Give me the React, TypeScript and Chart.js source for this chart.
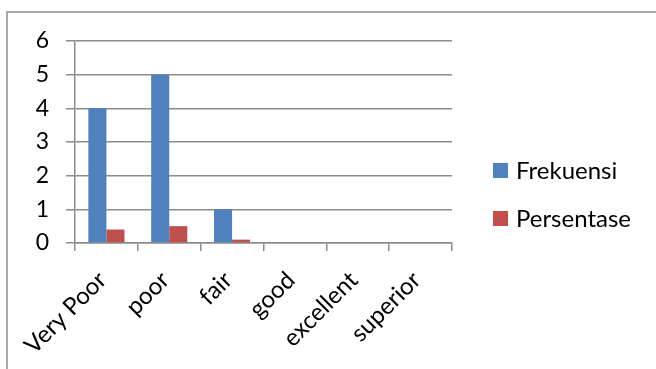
import React, { useEffect, useRef } from "react";
import { Chart, registerables } from "chart.js";

Chart.register(...registerables);

const categories = ["Very Poor", "poor", "fair", "good", "excellent", "superior"];
const frekuensi = [4, 5, 1, 0, 0, 0];
const persentase = [0.4, 0.5, 0.1, 0, 0, 0];
const yTicks = [0, 1, 2, 3, 4, 5, 6];
const seriesNames = ["Frekuensi", "Persentase"];
const seriesColors = ["#4F81BD", "#C0504D"];

const FONT = "Lato, 'Liberation Sans', sans-serif";

export default function App() {
  const ref = useRef<HTMLCanvasElement | null>(null);

  useEffect(() => {
    if (!ref.current) return;
    const framePlugin = {
      id: "frame",
      beforeDraw(chart: any) {
        const ctx = chart.ctx;
        ctx.save();
        ctx.fillStyle = "#ffffff";
        ctx.fillRect(0, 0, chart.width, chart.height);
        ctx.strokeStyle = "#8c8c8c";
        ctx.lineWidth = 1.5;
        ctx.strokeRect(7, 12, chart.width + 20, chart.height + 20);
        ctx.restore();
      },
      afterDraw(chart: any) {
        const ctx = chart.ctx;
        ctx.save();
        ctx.font = "24px " + FONT;
        ctx.textBaseline = "middle";
        ctx.textAlign = "left";
        seriesNames.forEach((name, i) => {
          const cy = 170 + i * 48;
          ctx.fillStyle = seriesColors[i];
          ctx.fillRect(493, cy - 7, 15, 15);
          ctx.fillStyle = "#000000";
          ctx.fillText(name, 516, cy + 1);
        });
        ctx.restore();
      },
    };

    const chart = new Chart(ref.current, {
      type: "bar",
      data: {
        labels: categories,
        datasets: [
          {
            label: seriesNames[0],
            data: frekuensi,
            backgroundColor: seriesColors[0],
            categoryPercentage: 0.575,
            barPercentage: 1,
          },
          {
            label: seriesNames[1],
            data: persentase,
            backgroundColor: seriesColors[1],
            categoryPercentage: 0.575,
            barPercentage: 1,
          },
        ],
      },
      options: {
        animation: false,
        responsive: false,
        maintainAspectRatio: false,
        layout: { padding: { top: 41, right: 204, left: 0, bottom: 0 } },
        plugins: {
          legend: { display: false },
          tooltip: { enabled: false },
        },
        scales: {
          x: {
            grid: {
              display: true,
              drawOnChartArea: false,
              drawTicks: true,
              tickLength: 8,
              color: "#8c8c8c",
              lineWidth: 1.5,
              offset: true,
            },
            border: { color: "#8c8c8c", width: 1.5 },
            ticks: {
              autoSkip: false,
              minRotation: 45,
              maxRotation: 45,
              padding: 15,
              labelOffset: -4,
              color: "#000000",
              font: { family: FONT, size: 24 },
            },
            afterFit(scale: any) {
              scale.height = 126;
            },
          },
          y: {
            min: 0,
            max: 6,
            afterBuildTicks(scale: any) {
              scale.ticks = yTicks.map((v) => ({ value: v }));
            },
            grid: {
              color: "#8c8c8c",
              lineWidth: 1.5,
              tickLength: 9,
            },
            border: { color: "#8c8c8c", width: 1.5 },
            ticks: {
              padding: 17,
              color: "#000000",
              font: { family: FONT, size: 23 },
            },
            afterFit(scale: any) {
              scale.width = 75;
            },
          },
        },
      },
      plugins: [framePlugin],
    });
    return () => chart.destroy();
  }, []);

  return (
    <div style={{ position: "fixed", left: 0, top: 0, width: 656, height: 369 }}>
      <canvas ref={ref} width={656} height={369} style={{ display: "block" }} />
    </div>
  );
}
